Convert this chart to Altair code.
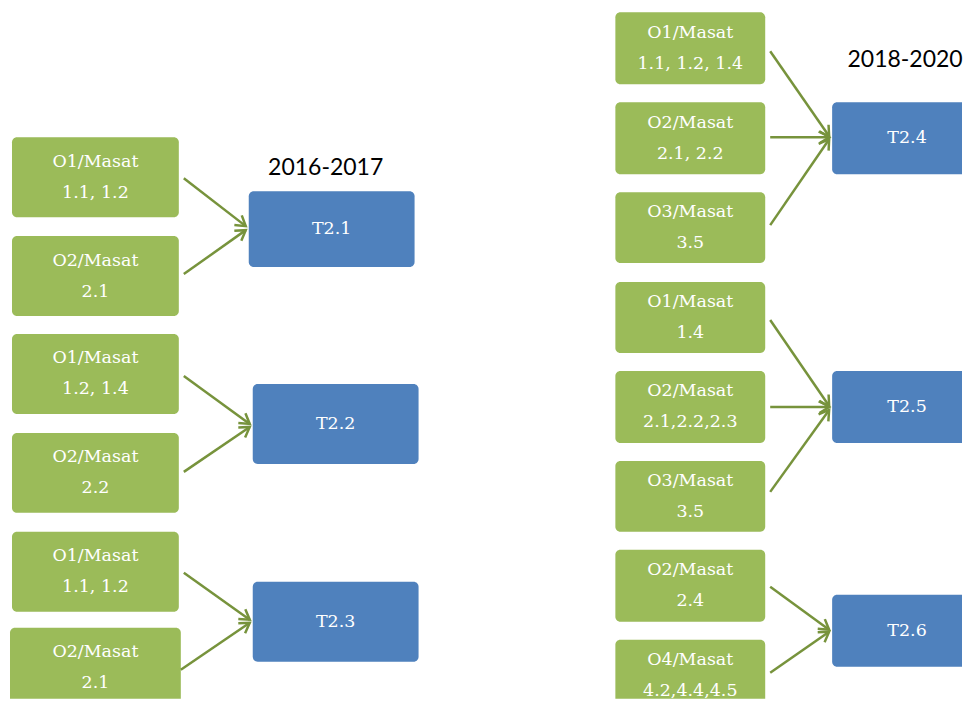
import math
import altair as alt
import pandas as pd

# ---- source boxes (green) ----
src_x1 = [12, 12, 12, 12, 12, 10, 616, 616, 616, 616, 616, 616, 616, 616]
src_x2 = [179, 179, 179, 179, 179, 181, 766, 766, 766, 766, 766, 766, 766, 766]
src_y1 = [137, 236, 334, 433, 532, 628, 12, 102, 192, 282, 371, 461, 550, 640]
src_y2 = [217, 316, 414, 513, 612, 708, 84, 174, 263, 353, 443, 532, 622, 712]
src_line1 = ["O1/Masat", "O2/Masat", "O1/Masat", "O2/Masat", "O1/Masat", "O2/Masat",
             "O1/Masat", "O2/Masat", "O3/Masat", "O1/Masat", "O2/Masat", "O3/Masat",
             "O2/Masat", "O4/Masat"]
src_line2 = ["1.1, 1.2", "2.1", "1.2, 1.4", "2.2", "1.1, 1.2", "2.1",
             "1.1, 1.2, 1.4", "2.1, 2.2", "3.5", "1.4", "2.1,2.2,2.3", "3.5",
             "2.4", "4.2,4.4,4.5"]

# ---- target boxes (blue) ----
tgt_x1 = [249, 253, 253, 833, 833, 833]
tgt_x2 = [415, 419, 419, 990, 990, 990]
tgt_y1 = [191, 384, 582, 102, 371, 595]
tgt_y2 = [267, 464, 662, 174, 443, 667]
tgt_label = ["T2.1", "T2.2", "T2.3", "T2.4", "T2.5", "T2.6"]

# ---- arrows ----
arr_x1 = [184, 184, 184, 184, 184, 181, 771, 771, 771, 771, 771, 771, 771, 771]
arr_y1 = [178, 274, 376, 472, 573, 670, 51, 137, 225, 320, 407, 492, 587, 673]
arr_x2 = [246, 246, 250, 250, 250, 250, 830, 830, 830, 830, 830, 830, 830, 830]
arr_y2 = [226, 230, 424, 427, 620, 623, 136, 137, 139, 406, 407, 410, 630, 632]

# ---- period titles ----
title_text = ["2016-2017", "2018-2020"]
title_x = [326, 906]
title_y = [168, 60]

GREEN = "#9BBB59"
BLUE = "#4F81BD"
ARROW = "#77933C"

xs = alt.Scale(domain=[8, 963], nice=False, zero=False)
ys = alt.Scale(domain=[8, 699], nice=False, zero=False, reverse=True)

src = pd.DataFrame({"x1": src_x1, "x2": src_x2, "y1": src_y1, "y2": src_y2,
                    "l1": src_line1, "l2": src_line2})
src["cx"] = (src.x1 + src.x2) / 2
src["cy"] = (src.y1 + src.y2) / 2

tgt = pd.DataFrame({"x1": tgt_x1, "x2": tgt_x2, "y1": tgt_y1, "y2": tgt_y2,
                    "label": tgt_label})
tgt["cx"] = (tgt.x1 + tgt.x2.clip(upper=1000)) / 2
# visible centre of right boxes (cut off by page edge)
tgt["cx"] = [(a + b) / 2 if b < 900 else a + 75 for a, b in zip(tgt_x1, tgt_x2)]
tgt["cy"] = (tgt.y1 + tgt.y2) / 2

arr = pd.DataFrame({"x1": arr_x1, "y1": arr_y1, "x2": arr_x2, "y2": arr_y2})
arr["ang"] = [(math.degrees(math.atan2(b2 - b1, a2 - a1)) + 360) % 360
              for a1, b1, a2, b2 in zip(arr_x1, arr_y1, arr_x2, arr_y2)]

lines = pd.concat([
    pd.DataFrame({"x": src.cx, "y": src.cy - 15.5, "t": src.l1}),
    pd.DataFrame({"x": src.cx, "y": src.cy + 15.5, "t": src.l2}),
])

titles = pd.DataFrame({"x": title_x, "y": title_y, "t": title_text})

green = alt.Chart(src).mark_rect(color=GREEN, cornerRadius=5, clip=True).encode(
    x=alt.X("x1:Q", scale=xs, axis=None), x2="x2:Q",
    y=alt.Y("y1:Q", scale=ys, axis=None), y2="y2:Q")

blue = alt.Chart(tgt).mark_rect(color=BLUE, cornerRadius=5, clip=True).encode(
    x=alt.X("x1:Q", scale=xs, axis=None), x2="x2:Q",
    y=alt.Y("y1:Q", scale=ys, axis=None), y2="y2:Q")

src_text = alt.Chart(lines).mark_text(font="DejaVu Serif", fontSize=17.5, color="#FFFFFF",
                                      baseline="middle", align="center").encode(
    x=alt.X("x:Q", scale=xs, axis=None), y=alt.Y("y:Q", scale=ys, axis=None), text="t:N")

tgt_text = alt.Chart(tgt).mark_text(font="DejaVu Serif", fontSize=17.5, color="#FFFFFF",
                                    baseline="middle", align="center").encode(
    x=alt.X("cx:Q", scale=xs, axis=None), y=alt.Y("cy:Q", scale=ys, axis=None), text="label:N")

shafts = alt.Chart(arr).mark_rule(color=ARROW, strokeWidth=2.5).encode(
    x=alt.X("x1:Q", scale=xs, axis=None), x2="x2:Q",
    y=alt.Y("y1:Q", scale=ys, axis=None), y2="y2:Q")

heads = alt.Chart(arr).mark_point(shape="M -1 -0.62 L 0 0 L -1 0.62", filled=False,
                                  color=ARROW, strokeWidth=2.5, size=380, opacity=1).encode(
    x=alt.X("x2:Q", scale=xs, axis=None), y=alt.Y("y2:Q", scale=ys, axis=None),
    angle=alt.Angle("ang:Q", scale=None))

title_marks = alt.Chart(titles).mark_text(font="Lato", fontSize=23, color="#000000",
                                          baseline="middle", align="center").encode(
    x=alt.X("x:Q", scale=xs, axis=None), y=alt.Y("y:Q", scale=ys, axis=None), text="t:N")

chart = alt.layer(green, blue, shafts, heads, src_text, tgt_text, title_marks).properties(
    width=955, height=691, padding=0, background="#FFFFFF"
).configure_view(stroke=None)

chart.save("out.html", embed_options={"renderer": "svg", "actions": False})
